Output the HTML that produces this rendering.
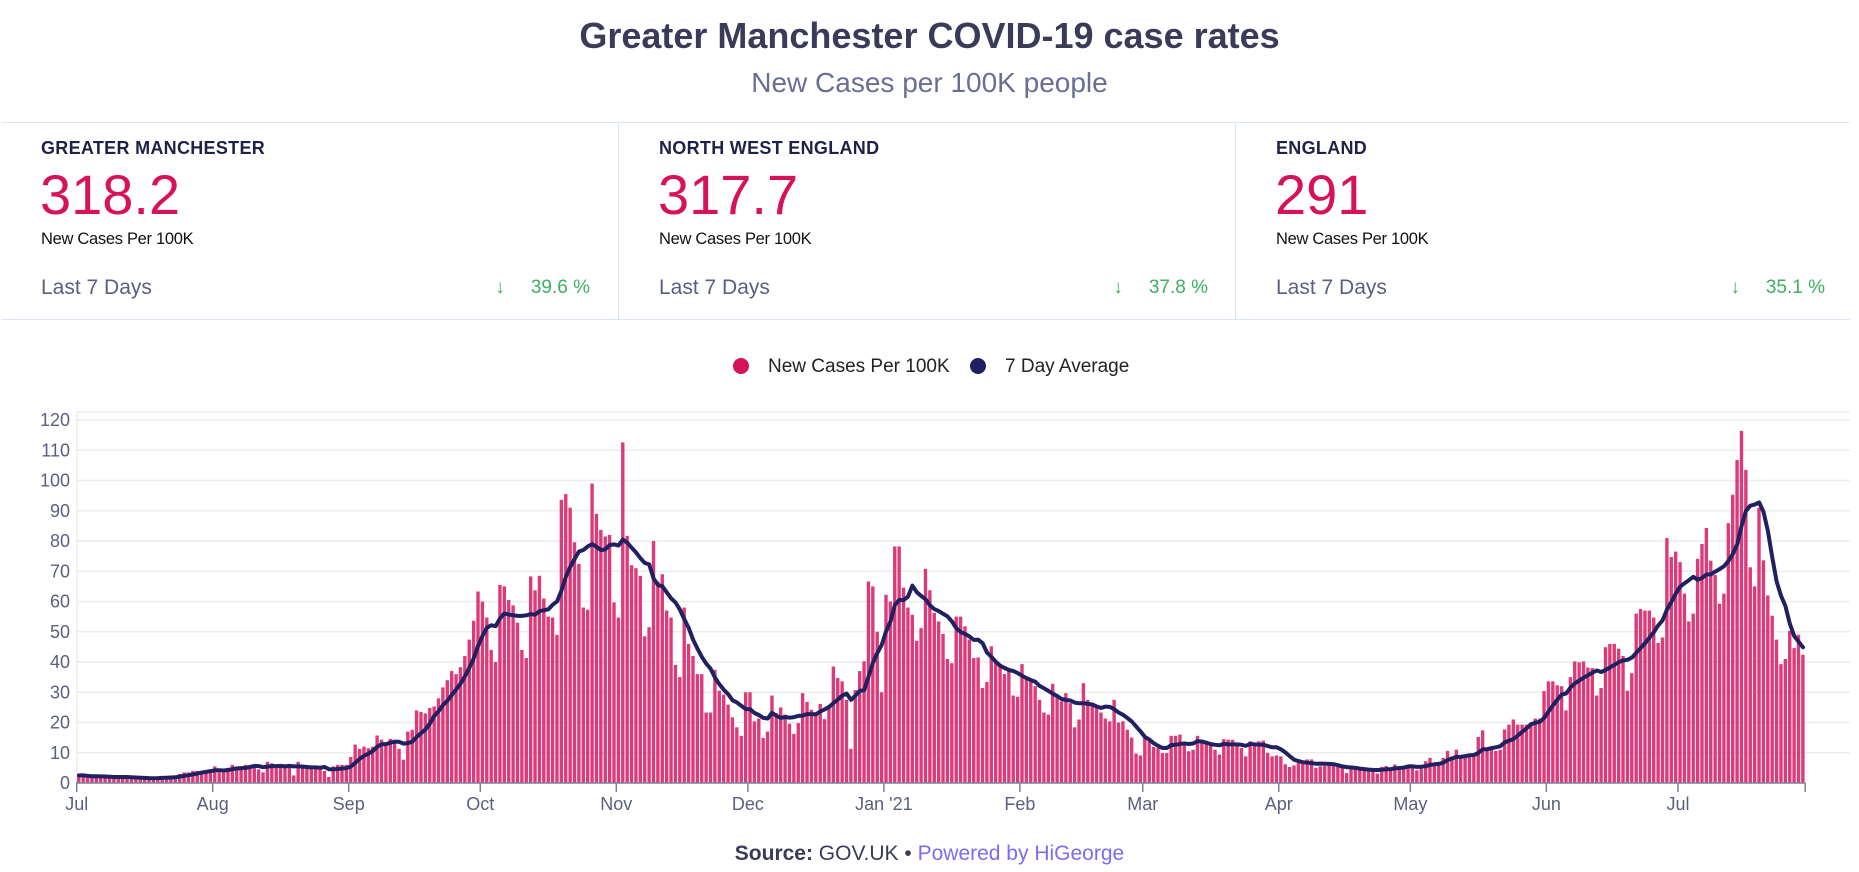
<!DOCTYPE html>
<html><head><meta charset="utf-8"><title>Greater Manchester COVID-19 case rates</title>
<style>
html,body{margin:0;padding:0;background:#fff;}
body{width:1859px;height:872px;position:relative;overflow:hidden;font-family:"Liberation Sans",sans-serif;}
.abs{position:absolute;white-space:nowrap;}
.lbl{font-size:18px;font-weight:bold;color:#1f2147;letter-spacing:0.3px;line-height:18px;}
.big{font-size:56px;color:#d6125a;line-height:56px;}
.sub{font-size:16.5px;color:#111;line-height:16px;letter-spacing:-0.3px;}
.l7{font-size:21px;color:#5a5f80;line-height:21px;}
.pct{font-size:19px;color:#3daf5e;line-height:19px;text-align:right;}
</style></head><body>
<div class="abs" style="left:0;width:1859px;top:16px;text-align:center;font-size:36px;font-weight:bold;color:#393b58;line-height:40px;">Greater Manchester COVID-19 case rates</div>
<div class="abs" style="left:0;width:1859px;top:68px;text-align:center;font-size:28px;color:#6a6e92;line-height:30px;">New Cases per 100K people</div>

<div class="abs" style="left:2px;top:122px;width:1848px;height:1px;background:#dbe5f4;"></div>
<div class="abs" style="left:2px;top:319px;width:1848px;height:1px;background:#dbe5f4;"></div>
<div class="abs" style="left:618px;top:122px;width:1px;height:198px;background:#dbe5f4;"></div>
<div class="abs" style="left:1235px;top:122px;width:1px;height:198px;background:#dbe5f4;"></div>

<div>
<div class="abs lbl" style="left:41px;top:139px;">GREATER MANCHESTER</div>
<div class="abs big" style="left:40px;top:167px;">318.2</div>
<div class="abs sub" style="left:41px;top:231px;">New Cases Per 100K</div>
<div class="abs l7" style="left:41px;top:277px;">Last 7 Days</div>
<div class="abs pct" style="left:460px;width:130px;top:278px;"><span style="margin-right:26px">↓</span>39.6 %</div>
</div>
<div>
<div class="abs lbl" style="left:659px;top:139px;">NORTH WEST ENGLAND</div>
<div class="abs big" style="left:658px;top:167px;">317.7</div>
<div class="abs sub" style="left:659px;top:231px;">New Cases Per 100K</div>
<div class="abs l7" style="left:659px;top:277px;">Last 7 Days</div>
<div class="abs pct" style="left:1078px;width:130px;top:278px;"><span style="margin-right:26px">↓</span>37.8 %</div>
</div>
<div>
<div class="abs lbl" style="left:1276px;top:139px;">ENGLAND</div>
<div class="abs big" style="left:1275px;top:167px;">291</div>
<div class="abs sub" style="left:1276px;top:231px;">New Cases Per 100K</div>
<div class="abs l7" style="left:1276px;top:277px;">Last 7 Days</div>
<div class="abs pct" style="left:1695px;width:130px;top:278px;"><span style="margin-right:26px">↓</span>35.1 %</div>
</div>

<div>
<div class="abs" style="left:733px;top:357px;font-size:19px;line-height:20px;color:#222;">
<span style="display:inline-block;width:16px;height:16px;border-radius:50%;background:#d6125a;vertical-align:-2px;margin-right:19px;"></span>New Cases Per 100K</div>
<div class="abs" style="left:970px;top:357px;font-size:19px;line-height:20px;color:#222;">
<span style="display:inline-block;width:16px;height:16px;border-radius:50%;background:#1f2160;vertical-align:-2px;margin-right:19px;"></span>7 Day Average</div>
</div>

<svg class="abs" style="left:0;top:0;" width="1859" height="872" xmlns="http://www.w3.org/2000/svg">
<g id="grid"></g><g id="bars"></g><g id="line"></g><g id="axes"></g>
</svg>

<div class="abs" style="left:0;width:1859px;top:843px;text-align:center;font-size:21px;line-height:22px;color:#393b58;">
<b>Source:</b> GOV.UK • <span style="color:#7b6cf0;">Powered by HiGeorge</span></div>

<script>
const yTicks = [0,10,20,30,40,50,60,70,80,90,100,110,120];
const monthLabels = ["Jul","Aug","Sep","Oct","Nov","Dec","Jan '21","Feb","Mar","Apr","May","Jun","Jul"];
const monthStartIdx = [0,31,62,92,123,153,184,215,243,274,304,335,365];
const cases = [
2.5,2.5,2,2,2,2,2,2,2,2,2,1.8,1.5,1.5,1.5,1.5,1.5,1.8,2,2,2,2,2,3,3.5,3.5,4,4,4,4,4.5,
5.5,3.5,3.5,5,6,5.5,5.5,6,5.5,6,4.5,3.5,7,6.5,6,6,5,5.5,2.5,7,6,5,5,5,5,4,2,5.5,6,6,6,
8.6,12.7,11.3,12,
11.5,12,15.7,14.3,13.2,14.6,14.3,11.3,7.7,17,17.6,24,23.5,23,24.8,25.3,28,31.6,34,37,36,38.3,42,47.4,53.6,
63.3,60,54.7,44,40,65.5,65,60.5,58.7,53,44,41.3,68.3,63.7,68.5,61,55,54.7,49,93.6,95.5,91,79.6,72.4,58,57.3,99,89,83.7,81.5,82,59.7,54.7,112.6,
81.7,72,71,68.5,48.5,51.5,80,66.6,69,57,54.7,
39,35,58,46,42,36,36,23.3,23.3,37.4,30.5,29.2,25.9,21.7,18.4,15.6,30,30,20.4,21.3,14.9,17,28.9,23.1,25,22.6,19.6,16.2,19.8,29.7,26.8,24.2,22.6,26.1,21.1,25.7,38.5,34.7,33.6,27.5,11.3,30.7,37,40.2,66.6,65,50,30,62.2,60,78.2,78.2,64.6,58,55.6,47,51.2,70.8,63.7,56.2,53.4,49.3,41,39.6,
55,
55,51.8,47.4,41.3,41.5,31.4,33.4,45.2,40.2,38.5,36,37,28.9,28.5,
39.3,34.5,34,32,27.5,23.3,22.6,32.8,29.2,27,29.7,26.4,18.4,21,33,27.5,25.7,25,23.3,21.3,20.4,27.5,20,20.4,17.6,15,9.7,9.1,
14.9,13.8,11.9,11.6,9.9,9.9,15.6,15.6,16,12.7,10.5,11,15.6,14.3,13.2,12.7,11,9.4,14.5,14.3,14.3,13.2,11.6,8.8,13.8,13.4,13.8,
14,10,8.8,9.1,8.8,6.2,5.3,5.8,6.6,6.4,7.8,7.8,5,5.5,5.6,6.1,5.6,5.5,5.1,3.3,4.7,4.7,4.4,4.4,4.4,4.4,3.1,5.3,5.6,5,6.1,5.3,5.3,5.8,5.5,4.2,5.5,7.2,8.3,6.7,6.7,8.3,10.6,8.8,11,8.3,8.6,8.6,8.9,15.2,17.4,11,11,10.6,11,17.7,19.3,21,19.3,19.3,19.3,20,21.3,21.3,30.4,33.6,33.6,32.3,
32,24,35,40.2,39.9,40.2,38.2,38,28.9,31.4,44.9,46,46,44.4,42,30.5,36.3,56,57.5,57,57,54.7,46.3,48.1,81,74.7,76.5,73,62.6,53.4,56,74.1,79,84.3,73.5,68.8,59.3,62.6,85.9,95.3,106.8,116.4,103.5,71.3,65,91,73.6,62,55.3,47.4,39.3,41,50.3,44.6,49,42.4
];

const NS = "http://www.w3.org/2000/svg";
const X0 = 76.7, DX = 4.387, Y0 = 783, PX_PER_UNIT = 3.025;
function xOf(i){ return X0 + i*DX; }
function yOf(v){ return Y0 - v*PX_PER_UNIT; }
function mk(tag, attrs, parent){ const e=document.createElementNS(NS,tag); for(const k in attrs) e.setAttribute(k,attrs[k]); parent.appendChild(e); return e; }

const grid = document.getElementById('grid');
const bars = document.getElementById('bars');
const lineG = document.getElementById('line');
const axes = document.getElementById('axes');

const frame = mk('line',{x1:77,y1:412,x2:1850,y2:412,stroke:'#eeeeee','stroke-width':1.5},grid);


const lb = mk('line',{x1:77,y1:412,x2:77,y2:783,stroke:'#eeeeee','stroke-width':1.5},grid);



yTicks.forEach(v=>{
  const y=yOf(v);
  if(v>0){
    const g = mk('line',{x1:77,y1:y,x2:1850,y2:y,stroke:'#ececec','stroke-width':1.5},grid);
    
    
  }
  const t = mk('text',{x:70,y:y+6,'text-anchor':'end','font-size':18,fill:'#5a5f80','font-family':'Liberation Sans, sans-serif'},axes);
  t.textContent = v;
  
  
});

cases.forEach((v,i)=>{
  const r = mk('rect',{x:xOf(i)+0.4,y:yOf(v),width:DX-1,height:Y0-yOf(v),fill:'#dc3a78'},bars);
  
  
});

const pts = cases.map((v,i)=>{
  const s = Math.max(0,i-6); let sum=0;
  for(let k=s;k<=i;k++) sum+=cases[k];
  return [xOf(i)+DX/2, yOf(sum/(i-s+1))];
});
const path = mk('path',{d:'M'+pts.map(p=>p[0].toFixed(1)+','+p[1].toFixed(1)).join(' L'),fill:'none',stroke:'#1f2160','stroke-width':4,'stroke-linejoin':'round','stroke-linecap':'round'},lineG);



const ax = mk('line',{x1:76,y1:Y0,x2:xOf(cases.length)+0.3,y2:Y0,stroke:'#7a7f9c','stroke-width':1.5},axes);



monthStartIdx.forEach((idx,k)=>{
  const x = xOf(idx);
  const tk = mk('line',{x1:x,y1:Y0,x2:x,y2:Y0+9,stroke:'#7a7f9c','stroke-width':1.5},axes);
  
  
  const t = mk('text',{x:x,y:Y0+27,'text-anchor':'middle','font-size':18,fill:'#5a5f80','font-family':'Liberation Sans, sans-serif'},axes);
  t.textContent = monthLabels[k];
  
  
});
const endX = xOf(cases.length);
const et = mk('line',{x1:endX,y1:Y0,x2:endX,y2:Y0+9,stroke:'#7a7f9c','stroke-width':1.5},axes);


</script>
</body></html>
